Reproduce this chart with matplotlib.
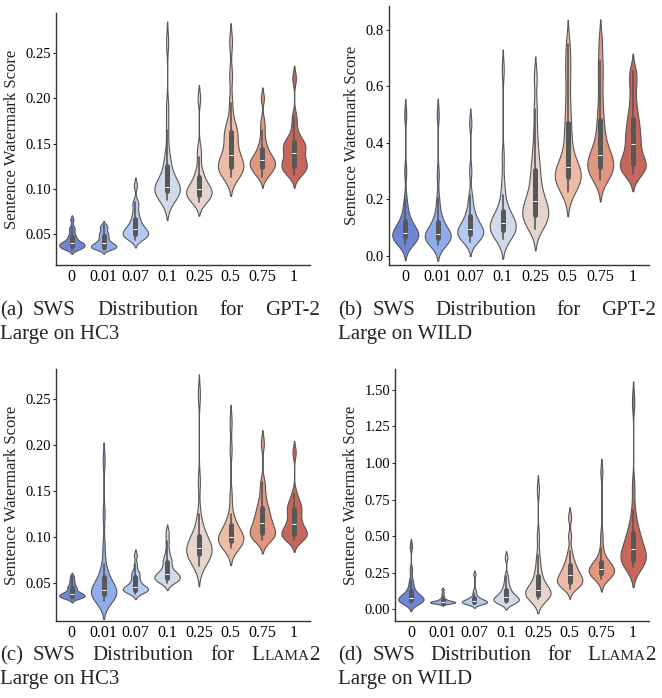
import numpy as np
import pandas as pd
import seaborn as sns
import matplotlib.pyplot as plt

cats = ['0', '0.01', '0.07', '0.1', '0.25', '0.5', '0.75', '1']

# sentence watermark scores per strength (one list per category)
gpt2_hc3 = [
    [0.033, 0.034, 0.035, 0.035, 0.036, 0.037, 0.038, 0.038, 0.039, 0.040, 0.040, 0.041, 0.042, 0.044, 0.046, 0.048, 0.051, 0.055, 0.058, 0.066],
    [0.033, 0.034, 0.035, 0.035, 0.036, 0.036, 0.037, 0.038, 0.039, 0.040, 0.040, 0.042, 0.044, 0.046, 0.048, 0.050, 0.052, 0.055, 0.058, 0.060],
    [0.044, 0.045, 0.047, 0.048, 0.049, 0.050, 0.051, 0.052, 0.054, 0.055, 0.056, 0.058, 0.060, 0.063, 0.066, 0.070, 0.075, 0.082, 0.086, 0.104],
    [0.088, 0.091, 0.093, 0.095, 0.097, 0.098, 0.099, 0.100, 0.101, 0.101, 0.102, 0.104, 0.106, 0.110, 0.118, 0.125, 0.130, 0.140, 0.165, 0.190, 0.262],
    [0.085, 0.087, 0.088, 0.090, 0.092, 0.094, 0.096, 0.097, 0.098, 0.099, 0.100, 0.102, 0.105, 0.108, 0.112, 0.116, 0.122, 0.135, 0.145, 0.200],
    [0.113, 0.116, 0.118, 0.120, 0.122, 0.124, 0.126, 0.128, 0.131, 0.134, 0.137, 0.142, 0.148, 0.155, 0.160, 0.163, 0.166, 0.175, 0.195, 0.225, 0.262],
    [0.113, 0.116, 0.119, 0.121, 0.123, 0.125, 0.126, 0.128, 0.130, 0.131, 0.132, 0.134, 0.137, 0.140, 0.143, 0.148, 0.155, 0.165, 0.175, 0.200],
    [0.115, 0.118, 0.121, 0.123, 0.125, 0.126, 0.128, 0.131, 0.135, 0.138, 0.141, 0.144, 0.147, 0.149, 0.151, 0.153, 0.158, 0.168, 0.180, 0.222],
]

gpt2_wild = [
    [0.040, 0.048, 0.053, 0.057, 0.061, 0.065, 0.068, 0.071, 0.074, 0.077, 0.080, 0.084, 0.090, 0.097, 0.105, 0.115, 0.125, 0.140, 0.165, 0.200, 0.300, 0.500],
    [0.038, 0.045, 0.050, 0.054, 0.058, 0.061, 0.064, 0.067, 0.070, 0.072, 0.075, 0.080, 0.086, 0.093, 0.102, 0.112, 0.122, 0.140, 0.165, 0.205, 0.290, 0.500],
    [0.050, 0.058, 0.063, 0.067, 0.071, 0.075, 0.079, 0.083, 0.087, 0.090, 0.093, 0.098, 0.105, 0.113, 0.122, 0.132, 0.145, 0.160, 0.185, 0.215, 0.300, 0.470],
    [0.060, 0.068, 0.075, 0.080, 0.085, 0.090, 0.095, 0.100, 0.104, 0.108, 0.112, 0.117, 0.123, 0.130, 0.138, 0.148, 0.160, 0.180, 0.215, 0.260, 0.350, 0.660],
    [0.095, 0.110, 0.120, 0.128, 0.135, 0.142, 0.150, 0.158, 0.168, 0.180, 0.190, 0.200, 0.215, 0.235, 0.260, 0.285, 0.310, 0.340, 0.380, 0.440, 0.520, 0.630],
    [0.225, 0.240, 0.252, 0.262, 0.270, 0.278, 0.286, 0.294, 0.300, 0.308, 0.316, 0.332, 0.360, 0.395, 0.430, 0.470, 0.515, 0.575, 0.640, 0.690, 0.750],
    [0.270, 0.282, 0.292, 0.300, 0.307, 0.314, 0.322, 0.331, 0.340, 0.350, 0.358, 0.372, 0.390, 0.415, 0.445, 0.480, 0.520, 0.580, 0.640, 0.690, 0.760],
    [0.290, 0.298, 0.306, 0.312, 0.318, 0.325, 0.333, 0.345, 0.360, 0.378, 0.396, 0.412, 0.428, 0.445, 0.465, 0.485, 0.510, 0.545, 0.590, 0.630, 0.655],
]

llama2_hc3 = [
    [0.032, 0.033, 0.034, 0.034, 0.035, 0.035, 0.036, 0.036, 0.037, 0.038, 0.038, 0.039, 0.040, 0.042, 0.044, 0.045, 0.047, 0.050, 0.053, 0.057],
    [0.030, 0.032, 0.034, 0.035, 0.036, 0.037, 0.038, 0.039, 0.040, 0.041, 0.042, 0.044, 0.046, 0.049, 0.052, 0.056, 0.062, 0.070, 0.090, 0.125, 0.183],
    [0.038, 0.039, 0.040, 0.041, 0.042, 0.042, 0.043, 0.044, 0.044, 0.045, 0.046, 0.048, 0.050, 0.052, 0.055, 0.058, 0.060, 0.063, 0.070, 0.080],
    [0.050, 0.051, 0.052, 0.053, 0.054, 0.055, 0.056, 0.057, 0.058, 0.059, 0.060, 0.062, 0.065, 0.068, 0.072, 0.075, 0.078, 0.085, 0.095, 0.105],
    [0.068, 0.072, 0.075, 0.077, 0.079, 0.081, 0.083, 0.085, 0.086, 0.087, 0.088, 0.090, 0.092, 0.095, 0.098, 0.101, 0.106, 0.112, 0.125, 0.160, 0.255],
    [0.088, 0.090, 0.092, 0.093, 0.094, 0.095, 0.096, 0.097, 0.098, 0.099, 0.100, 0.102, 0.104, 0.107, 0.110, 0.113, 0.118, 0.125, 0.145, 0.195, 0.225],
    [0.096, 0.098, 0.100, 0.101, 0.102, 0.104, 0.106, 0.108, 0.111, 0.113, 0.116, 0.119, 0.122, 0.126, 0.130, 0.134, 0.140, 0.150, 0.160, 0.202],
    [0.096, 0.098, 0.100, 0.101, 0.102, 0.103, 0.105, 0.107, 0.110, 0.112, 0.115, 0.119, 0.123, 0.127, 0.130, 0.133, 0.136, 0.140, 0.148, 0.192],
]

llama2_wild = [
    [0.040, 0.045, 0.050, 0.054, 0.058, 0.062, 0.066, 0.070, 0.074, 0.078, 0.083, 0.090, 0.098, 0.108, 0.120, 0.140, 0.170, 0.200, 0.270, 0.430],
    [0.038, 0.040, 0.042, 0.044, 0.045, 0.046, 0.048, 0.049, 0.050, 0.051, 0.052, 0.054, 0.056, 0.059, 0.063, 0.068, 0.075, 0.090, 0.110, 0.135],
    [0.035, 0.038, 0.041, 0.043, 0.045, 0.047, 0.049, 0.051, 0.053, 0.055, 0.057, 0.060, 0.064, 0.068, 0.074, 0.080, 0.090, 0.110, 0.130, 0.240],
    [0.040, 0.045, 0.050, 0.054, 0.058, 0.062, 0.067, 0.072, 0.077, 0.082, 0.088, 0.095, 0.104, 0.115, 0.128, 0.145, 0.165, 0.195, 0.230, 0.355],
    [0.070, 0.078, 0.085, 0.090, 0.095, 0.100, 0.106, 0.112, 0.118, 0.124, 0.130, 0.140, 0.155, 0.175, 0.200, 0.230, 0.260, 0.310, 0.370, 0.500, 0.820],
    [0.140, 0.155, 0.165, 0.175, 0.183, 0.190, 0.198, 0.206, 0.216, 0.228, 0.240, 0.252, 0.265, 0.280, 0.300, 0.325, 0.350, 0.400, 0.500, 0.630],
    [0.210, 0.222, 0.230, 0.237, 0.243, 0.250, 0.256, 0.262, 0.268, 0.274, 0.280, 0.288, 0.297, 0.308, 0.320, 0.335, 0.360, 0.420, 0.510, 0.940],
    [0.290, 0.305, 0.315, 0.322, 0.330, 0.338, 0.348, 0.360, 0.375, 0.392, 0.410, 0.428, 0.448, 0.470, 0.495, 0.520, 0.550, 0.600, 0.680, 0.840, 1.420],
]

sns.set_style("ticks")
plt.rcParams['font.family'] = ['Liberation Serif', 'DejaVu Serif']

W, H = 662, 698
fig = plt.figure(figsize=(W / 100, H / 100), dpi=100)


def px_axes(l, t, r, b):
    return fig.add_axes([l / W, 1 - b / H, (r - l) / W, (b - t) / H])


def to_long(groups):
    rows = []
    for c, vals in zip(cats, groups):
        for v in vals:
            rows.append((c, v))
    return pd.DataFrame(rows, columns=['strength', 'score'])


panels = [
    (gpt2_hc3, (56, 13, 310, 265), (0.016, 0.294), [0.05, 0.10, 0.15, 0.20, 0.25], '{:.2f}'),
    (gpt2_wild, (389, 6, 649, 265), (-0.033, 0.885), [0.0, 0.2, 0.4, 0.6, 0.8], '{:.1f}'),
    (llama2_hc3, (56, 369, 310, 621), (0.008, 0.283), [0.05, 0.10, 0.15, 0.20, 0.25], '{:.2f}'),
    (llama2_wild, (395, 369, 649, 621), (-0.08, 1.643), [0.0, 0.25, 0.5, 0.75, 1.0, 1.25, 1.5], '{:.2f}'),
]

for groups, box, ylim, yt, fmt in panels:
    ax = px_axes(*box)
    df = to_long(groups)
    sns.violinplot(data=df, x='strength', y='score', hue='strength', order=cats,
                   palette='coolwarm', legend=False, inner='box', density_norm='width',
                   bw_adjust=0.5, linewidth=0.8, ax=ax)
    ax.set_ylim(*ylim)
    ax.set_yticks(yt)
    ax.set_yticklabels([fmt.format(v) for v in yt])
    ax.set_xlabel('')
    ax.set_ylabel('Sentence Watermark Score', fontsize=12, labelpad=4)
    ax.tick_params(axis='y', labelsize=10.5, length=2.5, width=0.8, pad=1, colors='.15', labelcolor='black')
    ax.tick_params(axis='x', labelsize=11.5, length=0, pad=3, labelcolor='black')
    for s in ['top', 'right']:
        ax.spines[s].set_visible(False)
    for s in ['left', 'bottom']:
        ax.spines[s].set_linewidth(1.0)
        ax.spines[s].set_color('.2')

# captions: label, then the rest of the first line justified
fig.canvas.draw()
renderer = fig.canvas.get_renderer()


def make_word(word):
    pieces = []
    for txt, size in word:
        t = fig.text(0, 0, txt, fontsize=size, va='baseline', ha='left')
        pieces.append((t, t.get_window_extent(renderer).width))
    return pieces


def put_word(pieces, x, base):
    for t, pw in pieces:
        t.set_position((x / W, 1 - base / H))
        x += pw
    return x


def place_line(label, words, x0, x1, base, lab_gap=10):
    lab = make_word(label)
    start = put_word(lab, x0, base) + lab_gap
    objs = [make_word(w) for w in words]
    widths = [sum(pw for _, pw in p) for p in objs]
    gap = (x1 - start - sum(widths)) / (len(words) - 1)
    x = start
    for p, w in zip(objs, widths):
        put_word(p, x, base)
        x += w + gap


fs = 15
sc = 11
caps = [
    ('(a)', [('GPT-2', fs)], 'Large on HC3', 0, 320, 315),
    ('(b)', [('GPT-2', fs)], 'Large on WILD', 338, 656, 315),
    ('(c)', [('L', fs), ('LAMA', sc), ('2', fs)], 'Large on HC3', 0, 320, 660),
    ('(d)', [('L', fs), ('LAMA', sc), ('2', fs)], 'Large on WILD', 338, 656, 660),
]
for tag, model, line2, x0, x1, base in caps:
    words = [[('SWS', fs)], [('Distribution', fs)], [('for', fs)], model]
    place_line([(tag, fs)], words, x0, x1, base)
    fig.text(x0 / W, 1 - (base + 24) / H, line2, fontsize=fs, va='baseline', ha='left')

fig.savefig('out.png', dpi=100)
